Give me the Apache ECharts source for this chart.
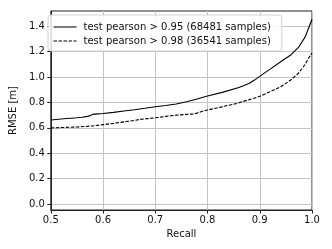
<!DOCTYPE html>
<html><head><meta charset="utf-8">
<script src="https://cdn.jsdelivr.net/npm/echarts@6/dist/echarts.min.js"></script>
<style>html,body{margin:0;padding:0;background:#fff}#c{width:332px;height:249px}</style>
</head><body><div id="c"></div>
<script>
const recall95 = [0.50,0.51,0.52,0.53,0.54,0.55,0.56,0.57,0.575,0.58,0.59,0.60,0.62,0.64,0.66,0.68,0.70,0.72,0.74,0.76,0.78,0.80,0.83,0.86,0.87,0.88,0.89,0.90,0.91,0.92,0.94,0.96,0.975,0.987,0.993,1.00];
const rmse95   = [0.662,0.666,0.670,0.673,0.676,0.679,0.683,0.690,0.696,0.706,0.710,0.713,0.722,0.733,0.743,0.754,0.766,0.776,0.788,0.805,0.827,0.851,0.881,0.918,0.934,0.951,0.976,1.005,1.035,1.062,1.120,1.176,1.238,1.316,1.380,1.455];
const recall98 = [0.50,0.55,0.58,0.60,0.62,0.64,0.66,0.67,0.70,0.72,0.74,0.76,0.775,0.79,0.80,0.83,0.856,0.866,0.88,0.90,0.912,0.922,0.94,0.96,0.974,0.987,0.993,1.00];
const rmse98   = [0.600,0.606,0.615,0.625,0.635,0.647,0.658,0.666,0.679,0.690,0.700,0.706,0.710,0.730,0.740,0.768,0.792,0.805,0.822,0.848,0.871,0.889,0.923,0.978,1.030,1.100,1.146,1.190];
const xTicks = [0.5,0.6,0.7,0.8,0.9,1.0];
const yTicks = [0.0,0.2,0.4,0.6,0.8,1.0,1.2,1.4];
const seriesNames = ['test pearson > 0.95 (68481 samples)','test pearson > 0.98 (36541 samples)'];

const F = 'DejaVu Sans';
const chart = echarts.init(document.getElementById('c'), null, {renderer:'canvas'});
chart.setOption({
  animation:false,
  textStyle:{fontFamily:F},
  grid:{left:44,right:20,top:11,bottom:39,show:true,borderColor:'#222',borderWidth:1,backgroundColor:'transparent'},
  legend:{
    left:48, top:15, orient:'vertical',
    padding:[7,11,5,5],
    itemWidth:23, itemHeight:10, itemGap:4,
    itemStyle:{opacity:0},
    lineStyle:{width:1},
    backgroundColor:'rgba(255,255,255,0.85)', borderColor:'#d0d0d0', borderWidth:1, borderRadius:3,
    textStyle:{fontFamily:F,fontSize:10,color:'#111',padding:[0,0,0,2]},
    data:seriesNames
  },
  xAxis:{type:'value',min:0.5,max:1.0,interval:0.1,
    name:'Recall',nameLocation:'middle',nameGap:14,nameTextStyle:{fontFamily:F,fontSize:10,color:'#111'},
    axisLine:{show:true,onZero:false,lineStyle:{color:'#222',width:1}},
    axisTick:{show:true,inside:false,length:3.5,lineStyle:{color:'#222'}},
    axisLabel:{fontFamily:F,fontSize:10,color:'#111',margin:5,formatter:v=>v.toFixed(1)},
    splitLine:{show:true,lineStyle:{color:'#c4c4c4',width:1}}
  },
  yAxis:{type:'value',min:-0.047,max:1.52,
    name:'RMSE [m]',nameLocation:'middle',nameGap:24,nameTextStyle:{fontFamily:F,fontSize:10,color:'#111'},
    axisLine:{show:true,onZero:false,lineStyle:{color:'#222',width:1}},
    axisTick:{show:true,inside:false,length:3.5,lineStyle:{color:'#222'},customValues:yTicks},
    axisLabel:{fontFamily:F,fontSize:10,color:'#111',margin:6,customValues:yTicks,formatter:v=>v.toFixed(1)},
    splitLine:{show:true,lineStyle:{color:'#c4c4c4',width:1}}
  },
  series:[
    {name:seriesNames[0],type:'line',symbol:'none',data:recall95.map((x,i)=>[x,rmse95[i]]),
     lineStyle:{color:'#000',width:1.1},itemStyle:{color:'#000'}},
    {name:seriesNames[1],type:'line',symbol:'none',data:recall98.map((x,i)=>[x,rmse98[i]]),
     lineStyle:{color:'#000',width:1.1,type:[3.5,1.5]},itemStyle:{color:'#000'}}
  ]
});
</script></body></html>
